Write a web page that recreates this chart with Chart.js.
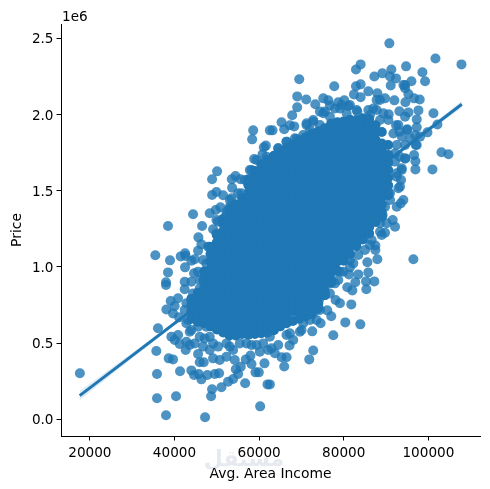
<!DOCTYPE html>
<html>
<head>
<meta charset="utf-8">
<script src="https://cdn.jsdelivr.net/npm/chart.js@4"></script>
<style>
body { margin: 0; background: #fff; }
</style>
</head>
<body>
<canvas id="plot" width="490" height="489"></canvas>
<script>
// prices are in millions, same as the 1e6 note on the axis
var incomeTicks = [20000, 40000, 60000, 80000, 100000];
var priceTicks = [0, 0.5, 1, 1.5, 2, 2.5];

// dots that can be told apart around the edge
var dots = [
[58600,1.896],[58350,1.837],[62530,1.896],[61590,1.796],[61110,1.785],[60800,1.739],[58830,1.708],[50070,1.627],
[48890,1.575],[53540,1.575],[54410,1.597],[55590,1.575],[53620,1.52],[49910,1.492],[48890,1.472],[51490,1.47],
[44390,1.345],[48330,1.352],[49750,1.373],[50860,1.391],[38470,1.268],[46520,1.268],[49120,1.247],[53460,1.45],
[55830,1.483],[59380,1.592],[58200,1.636],[51490,1.286],[50300,1.297],[52280,1.341],[53070,1.395],[57410,1.548],
[90780,2.467],[101670,2.368],[107820,2.329],[83990,2.329],[82890,2.296],[94730,2.316],[91250,2.296],[89120,2.27],
[87230,2.25],[90940,2.25],[92360,2.237],[98590,2.277],[99220,2.218],[95990,2.218],[94490,2.194],[91100,2.191],
[69480,2.231],[77760,2.185],[83990,2.198],[82890,2.185],[82420,2.132],[85810,2.152],[87940,2.139],[83990,2.113],
[69000,2.119],[71135,2.099],[75160,2.106],[76340,2.093],[73270,2.067],[76740,2.06],[78710,2.08],[80130,2.093],
[81080,2.056],[69000,2.047],[67820,1.995],[65300,1.949],[63170,1.896],[65930,1.903],[67270,1.929],[68295,1.922],
[74370,2.019],[89755,2.106],[91965,2.093],[88570,2.095],[94490,2.172],[94100,2.194],[95280,2.134],[94570,2.08],
[96620,2.106],[97960,2.099],[93150,2.021],[97650,2.027],[95280,2.014],[94490,1.986],[97250,1.968],[101200,2.008],
[102140,1.935],[99780,1.883],[97250,1.916],[95040,1.903],[92360,1.929],[90620,2.001],[98040,1.855],[95670,1.844],
[93150,1.887],[93700,1.855],[97010,1.8],[94490,1.8],[103090,1.752],[104750,1.739],[100960,1.64],[96620,1.734],
[96935,1.693],[96935,1.64],[94570,1.712],[93300,1.723],[92120,1.691],[93700,1.636],[92520,1.614],[93540,1.57],
[92910,1.516],[90540,1.487],[94095,1.439],[93460,1.417],[92520,1.395],[90940,1.439],[89200,1.341],[91570,1.308],
[92120,1.264],[90150,1.286],[88570,1.286],[83050,2.03],[86990,2.04],[87780,2.095],[79100,2.04],[64510,1.778],
[66480,1.822],[68850,1.84],[71215,1.931],[72790,1.953],[75160,2.008],
[17640,0.302],[35470,1.076],[38940,1.043],[38470,0.964],[37997,0.899],[37997,0.881],[41470,1.069],[42495,1.089],
[42650,1.071],[43990,1.041],[44780,1.05],[42495,0.997],[45650,1.194],[46360,1.148],[45570,1.106],[47940,1.133],
[42415,0.903],[42415,0.853],[44625,0.958],[45570,0.969],[45965,0.859],[43990,0.903],[39100,0.776],[38080,0.721],
[40050,0.743],[40840,0.794],[39650,0.695],[41075,0.669],[36100,0.597],[39260,0.542],[40840,0.553],[40050,0.52],
[41230,0.494],[42650,0.455],[43600,0.487],[44780,0.498],[47150,0.531],[46755,0.477],[45570,0.428],[35710,0.448],
[38630,0.4],[39655,0.393],[35870,0.297],[41310,0.315],[43990,0.321],[44625,0.291],[45730,0.297],[46360,0.262],
[47780,0.291],[45965,0.374],[46910,0.374],[49515,0.297],[50540,0.302],[48885,0.197],[51095,0.21],[48650,0.151],
[52670,0.247],[53855,0.264],[55040,0.297],[54490,0.328],[55670,0.345],[56855,0.393],[58195,0.363],[57960,0.418],
[59140,0.308],[59930,0.308],[61270,0.367],[56700,0.236],[61980,0.229],[60250,0.085],[35870,0.138],[40365,0.151],
[37997,0.026],[47230,0.013],[49120,0.4],[50700,0.389],[52280,0.411],[54250,0.389],[55435,0.498],[53855,0.455],
[58195,0.487],[60170,0.444],[62140,0.455],[59380,0.487],[48335,0.455],[50300,0.477],[52280,0.498],[45570,0.608],
[43600,0.575],[42810,0.509],[47545,0.608],[51490,0.586],[48335,0.542],[42810,0.63],[42810,0.761],[44385,0.826],
[46755,0.914],[47545,1.023],[49120,1.089],
[96460,1.05],[87940,1.05],[87470,1.141],[87470,1.111],[85575,1.03],[85810,0.964],[83440,0.951],[81470,0.997],
[81235,0.951],[85260,0.905],[87230,0.905],[82735,0.899],[80840,0.866],[82025,0.846],[85335,0.853],[81790,0.754],
[79100,0.761],[78080,0.783],[76735,0.826],[74210,0.787],[76105,0.715],[77050,0.676],[74530,0.63],[80370,0.636],
[83920,0.623],[77525,0.551],[72555,0.577],[70030,0.586],[72790,0.452],[71845,0.393],[67190,0.485],[68060,0.52],
[66480,0.407],[65300,0.407],[65930,0.347],[62535,0.229],[63720,0.433],[64510,0.488],[62930,0.466],[66480,0.553],
[70430,0.63],[73580,0.652],[73580,0.717],[74370,0.717],[78710,0.914],[88965,1.209],[89755,1.224],[79100,0.969],
[81470,1.045],[83440,1.078],[86200,1.144],[75550,0.87],
// rim of the blob
[71215,1.942],[72790,1.964],[75555,2.019],[77920,2.04],[79500,2.062],[81470,2.062],[83210,2.019],[85810,2.03],
[87780,2.03],[89360,2.008],[90545,1.964],[92910,1.931],[94880,1.898],[96860,1.865],[97250,1.8],[94490,1.712],
[93700,1.647],[92520,1.592],[93300,1.527],[90940,1.483],[89755,1.395],[88570,1.33],[70425,1.865],[68450,1.844],
[66480,1.822],[64510,1.778],[63325,1.723],[62535,1.68],[72000,1.898],[74370,1.931],[76740,1.986],[80680,2.008],
[83840,1.964],[86200,1.997],[88570,1.964],[91730,1.876],[92520,1.8],[92120,1.745],
[59380,1.701],[57800,1.636],[56620,1.57],[55040,1.483],[53070,1.439],[52280,1.362],[49910,1.308],[61750,1.723],
[49910,1.22],[48335,1.133],[46755,1.045],[47150,0.958],[45965,0.914],[43990,0.783],[42415,0.717],[43205,0.652],
[43990,0.586],[45965,0.542],[49120,0.498],[53070,0.477],[57010,0.498],[60960,0.498],[62535,0.542],
[67270,0.564],[69635,0.575],[72000,0.652],[73190,0.739],[75550,0.815],[77920,0.892],[79900,0.969],[82260,1.023],
[85020,1.111],[86600,1.176],[88570,1.231]
];

// the middle is solid in the picture, single dots cant be read there.
// these are estimates by hand, one list per income column, only to cover that area
var coreIncomes = [44000,45500,47000,48500,50000,51500,53000,54500,56000,57500,59000,60500,62000,63500,65000,66500,
68000,69500,71000,72500,74000,75500,77000,78500,80000,81500,83000,84500,86000,87500,89000,90500];
var corePrices = [
[.66,.71,.75,.79],
[.64,.685,.735,.785,.83],
[.63,.66,.71,.76,.81,.86,.91,.97],
[.61,.635,.685,.735,.785,.835,.885,.935,.985,1.035,1.085,1.13],
[.59,.61,.66,.71,.76,.81,.86,.91,.96,1.01,1.06,1.11,1.16,1.21],
[.57,.59,.635,.685,.735,.785,.835,.885,.935,.985,1.035,1.085,1.135,1.185,1.235,1.285,1.315],
[.55,.61,.66,.71,.76,.81,.86,.91,.96,1.01,1.06,1.11,1.16,1.21,1.26,1.31,1.36,1.38],
[.55,.585,.635,.685,.735,.785,.835,.885,.935,.985,1.035,1.085,1.135,1.185,1.235,1.285,1.335,1.385,1.41],
[.56,.61,.66,.71,.76,.81,.86,.91,.96,1.01,1.06,1.11,1.16,1.21,1.26,1.31,1.36,1.41,1.45],
[.555,.585,.635,.685,.735,.785,.835,.885,.935,.985,1.035,1.085,1.135,1.185,1.235,1.285,1.335,1.385,1.435,1.485,1.535,1.575],
[.56,.61,.66,.71,.76,.81,.86,.91,.96,1.01,1.06,1.11,1.16,1.21,1.26,1.31,1.36,1.41,1.46,1.51,1.56,1.61,1.63],
[.565,.59,.635,.685,.735,.785,.835,.885,.935,.985,1.035,1.085,1.135,1.185,1.235,1.285,1.335,1.385,1.435,1.485,1.535,1.585,1.635,1.675],
[.57,.61,.66,.71,.76,.81,.86,.91,.96,1.01,1.06,1.11,1.16,1.21,1.26,1.31,1.36,1.41,1.46,1.51,1.56,1.61,1.66,1.70],
[.585,.635,.685,.735,.785,.835,.885,.935,.985,1.035,1.085,1.135,1.185,1.235,1.285,1.335,1.385,1.435,1.485,1.535,1.585,1.635,1.685,1.73],
[.61,.66,.71,.76,.81,.86,.91,.96,1.01,1.06,1.11,1.16,1.21,1.26,1.31,1.36,1.41,1.46,1.51,1.56,1.61,1.66,1.71,1.755],
[.63,.685,.735,.785,.835,.885,.935,.985,1.035,1.085,1.135,1.185,1.235,1.285,1.335,1.385,1.435,1.485,1.535,1.585,1.635,1.685,1.735,1.78],
[.645,.71,.76,.81,.86,.91,.96,1.01,1.06,1.11,1.16,1.21,1.26,1.31,1.36,1.41,1.46,1.51,1.56,1.61,1.66,1.71,1.76,1.80],
[.66,.685,.735,.785,.835,.885,.935,.985,1.035,1.085,1.135,1.185,1.235,1.285,1.335,1.385,1.435,1.485,1.535,1.585,1.635,1.685,1.735,1.785,1.83],
[.675,.71,.76,.81,.86,.91,.96,1.01,1.06,1.11,1.16,1.21,1.26,1.31,1.36,1.41,1.46,1.51,1.56,1.61,1.66,1.71,1.76,1.81,1.85],
[.69,.735,.785,.835,.885,.935,.985,1.035,1.085,1.135,1.185,1.235,1.285,1.335,1.385,1.435,1.485,1.535,1.585,1.635,1.685,1.735,1.785,1.835,1.875],
[.73,.76,.81,.86,.91,.96,1.01,1.06,1.11,1.16,1.21,1.26,1.31,1.36,1.41,1.46,1.51,1.56,1.61,1.66,1.71,1.76,1.81,1.86,1.89],
[.815,.835,.885,.935,.985,1.035,1.085,1.135,1.185,1.235,1.285,1.335,1.385,1.435,1.485,1.535,1.585,1.635,1.685,1.735,1.785,1.835,1.885,1.91],
[.895,.91,.96,1.01,1.06,1.11,1.16,1.21,1.26,1.31,1.36,1.41,1.46,1.51,1.56,1.61,1.66,1.71,1.76,1.81,1.86,1.91,1.94],
[.975,1.035,1.085,1.135,1.185,1.235,1.285,1.335,1.385,1.435,1.485,1.535,1.585,1.635,1.685,1.735,1.785,1.835,1.885,1.935,1.95],
[1.04,1.06,1.11,1.16,1.21,1.26,1.31,1.36,1.41,1.46,1.51,1.56,1.61,1.66,1.71,1.76,1.81,1.86,1.91,1.955],
[1.085,1.135,1.185,1.235,1.285,1.335,1.385,1.435,1.485,1.535,1.585,1.635,1.685,1.735,1.785,1.835,1.885,1.935,1.965],
[1.135,1.16,1.21,1.26,1.31,1.36,1.41,1.46,1.51,1.56,1.61,1.66,1.71,1.76,1.81,1.86,1.91,1.96],
[1.18,1.235,1.285,1.335,1.385,1.435,1.485,1.535,1.585,1.635,1.685,1.735,1.785,1.835,1.885,1.935,1.975],
[1.22,1.26,1.31,1.36,1.41,1.46,1.51,1.56,1.61,1.66,1.71,1.76,1.81,1.86,1.91,1.97],
[1.295,1.335,1.385,1.435,1.485,1.535,1.585,1.635,1.685,1.735,1.785,1.835,1.885,1.93],
[1.33,1.36,1.41,1.46,1.51,1.56,1.61,1.66,1.71,1.76,1.81,1.885],
[1.47,1.535,1.585,1.635,1.685,1.735,1.80]
];

// regression line and its confidence band
var fitIncomes = [17600,30000,45000,68600,85000,100000,107900];
var fitPrices = [0.155,0.418,0.735,1.235,1.582,1.9,2.067];
var bandUpper = [0.185,0.436,0.743,1.239,1.59,1.915,2.089];
var bandLower = [0.125,0.4,0.727,1.231,1.574,1.885,2.045];

var blue = '#1f77b4';
var coreData = [];
for (var i = 0; i < coreIncomes.length; i++) {
    for (var j = 0; j < corePrices[i].length; j++) {
        coreData.push({x: coreIncomes[i], y: corePrices[i][j]});
    }
}
function toPoints(xs, ys) {
    return xs.map(function (v, k) { return {x: v, y: ys[k]}; });
}

// 1e6 note and the faint watermark under the x axis
var extras = {
    id: 'extras',
    beforeDraw: function (chart) {
        var c = chart.ctx;
        c.save();
        c.fillStyle = '#e6eaf0';
        c.font = 'bold 22px "DejaVu Sans"';
        c.textAlign = 'center';
        c.textBaseline = 'middle';
        c.fillText('مستقل', 244, 460);
        c.restore();
    },
    afterDraw: function (chart) {
        var c = chart.ctx;
        c.save();
        c.fillStyle = '#000';
        c.font = '13.6px "DejaVu Sans"';
        c.textBaseline = 'alphabetic';
        c.fillText('1e6', 62, 21);
        c.restore();
    }
};

var tickFont = {family: '"DejaVu Sans"', size: 13.6};
var titleFont = {family: '"DejaVu Sans"', size: 13.9};

new Chart(document.getElementById('plot'), {
    type: 'scatter',
    data: {
        datasets: [
            {data: coreData, order: 4, pointRadius: 5, borderWidth: 0, backgroundColor: blue},
            {data: dots.map(function (d) { return {x: d[0], y: d[1]}; }), order: 3, pointRadius: 5, borderWidth: 0, backgroundColor: 'rgba(31,119,180,0.8)'},
            {data: toPoints(fitIncomes, bandUpper), order: 2, showLine: true, pointRadius: 0, borderWidth: 0, fill: '+1', backgroundColor: 'rgba(31,119,180,0.15)'},
            {data: toPoints(fitIncomes, bandLower), order: 2, showLine: true, pointRadius: 0, borderWidth: 0},
            {data: toPoints(fitIncomes, fitPrices), order: 1, showLine: true, pointRadius: 0, borderWidth: 3, borderColor: blue}
        ]
    },
    options: {
        responsive: false,
        animation: false,
        layout: {padding: {top: 24, right: 10, left: 0, bottom: 0}},
        plugins: {legend: {display: false}, tooltip: {enabled: false}},
        scales: {
            x: {
                type: 'linear',
                min: 13180,
                max: 112200,
                afterBuildTicks: function (s) { s.ticks = incomeTicks.map(function (v) { return {value: v}; }); },
                afterFit: function (s) { s.height = 53; },
                grid: {drawOnChartArea: false, tickLength: 4.5, tickColor: '#000', tickWidth: 1},
                border: {color: '#000', width: 1},
                ticks: {color: '#000', font: tickFont, padding: 4.5, maxRotation: 0, autoSkip: false,
                    callback: function (v) { return String(v); }},
                title: {display: true, text: 'Avg. Area Income', color: '#000', font: titleFont, padding: {top: 0, bottom: 6.5}}
            },
            y: {
                type: 'linear',
                min: -0.1096,
                max: 2.594,
                afterBuildTicks: function (s) { s.ticks = priceTicks.map(function (v) { return {value: v}; }); },
                afterFit: function (s) { s.width = 61; },
                grid: {drawOnChartArea: false, tickLength: 4.5, tickColor: '#000', tickWidth: 1},
                border: {color: '#000', width: 1},
                ticks: {color: '#000', font: tickFont, padding: 3, autoSkip: false, labelOffset: 1.5,
                    callback: function (v) { return v.toFixed(1); }},
                title: {display: true, text: 'Price', color: '#000', font: titleFont, padding: {top: 9, bottom: 0}}
            }
        }
    },
    plugins: [extras]
});
</script>
</body>
</html>
